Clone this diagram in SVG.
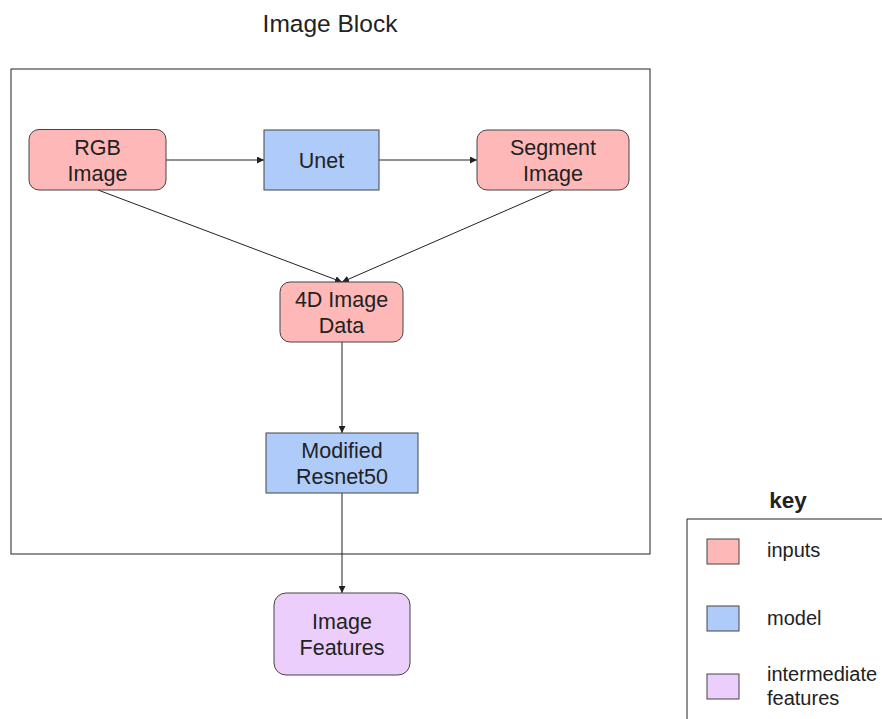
<svg xmlns="http://www.w3.org/2000/svg" width="882" height="719" viewBox="0 0 882 719">
<defs>
<style>
text{font-family:"Liberation Sans",Arial,sans-serif;fill:#222;}
.t{font-size:21.5px;text-anchor:middle;}
.k{font-size:20px;}
.in{fill:#ffb8b8;stroke:#444;stroke-width:1;}
.md{fill:#aecbfa;stroke:#444;stroke-width:1;}
.ft{fill:#ebcefc;stroke:#444;stroke-width:1;}
.c{stroke:#222;stroke-width:1;fill:none;marker-end:url(#a);}
</style>
<marker id="a" viewBox="0 0 10 10" refX="10" refY="5" markerWidth="7" markerHeight="7" markerUnits="userSpaceOnUse" orient="auto"><path d="M0,0 L10,5 L0,10 z" fill="#222"/></marker>
</defs>
<rect width="882" height="719" fill="#fff"/>
<text x="330" y="32" font-size="24.5" text-anchor="middle">Image Block</text>
<rect x="11" y="69" width="639" height="485" fill="none" stroke="#222" stroke-width="1"/>
<g id="connectors">
<line class="c" x1="166" y1="160" x2="264" y2="160"/>
<line class="c" x1="379" y1="160" x2="477" y2="160"/>
<line class="c" x1="98" y1="190" x2="342" y2="282"/>
<line class="c" x1="553" y1="190" x2="342" y2="282"/>
<line class="c" x1="342" y1="342" x2="342" y2="433"/>
<line class="c" x1="342" y1="493" x2="342" y2="593"/>
</g>
<g id="rgb"><rect class="in" x="29" y="129.5" width="137" height="60.5" rx="10"/><text class="t" x="97.5" y="155">RGB</text><text class="t" x="97.5" y="181">Image</text></g>
<g id="unet"><rect class="md" x="264" y="130" width="115" height="60"/><text class="t" x="321.5" y="168">Unet</text></g>
<g id="segment"><rect class="in" x="477" y="130" width="152" height="60" rx="10"/><text class="t" x="553" y="155">Segment</text><text class="t" x="553" y="181">Image</text></g>
<g id="data4d"><rect class="in" x="280" y="282" width="123" height="60" rx="10"/><text class="t" x="341.5" y="307">4D Image</text><text class="t" x="341.5" y="333">Data</text></g>
<g id="resnet"><rect class="md" x="266" y="433" width="152" height="60"/><text class="t" x="342" y="458">Modified</text><text class="t" x="342" y="484">Resnet50</text></g>
<g id="features"><rect class="ft" x="274" y="593" width="136" height="82" rx="12"/><text class="t" x="342" y="629">Image</text><text class="t" x="342" y="655">Features</text></g>
<g id="key">
<text x="788" y="508" font-size="22.5" font-weight="bold" text-anchor="middle">key</text>
<path d="M687,719 V519 H882" fill="none" stroke="#222" stroke-width="1"/>
<rect class="in" x="707" y="539" width="32" height="25"/>
<text class="k" x="767" y="557">inputs</text>
<rect class="md" x="707" y="606" width="32" height="25"/>
<text class="k" x="767" y="625">model</text>
<rect class="ft" x="707" y="674" width="32" height="25"/>
<text class="k" x="767" y="681">intermediate</text>
<text class="k" x="767" y="705">features</text>
</g>
</svg>
